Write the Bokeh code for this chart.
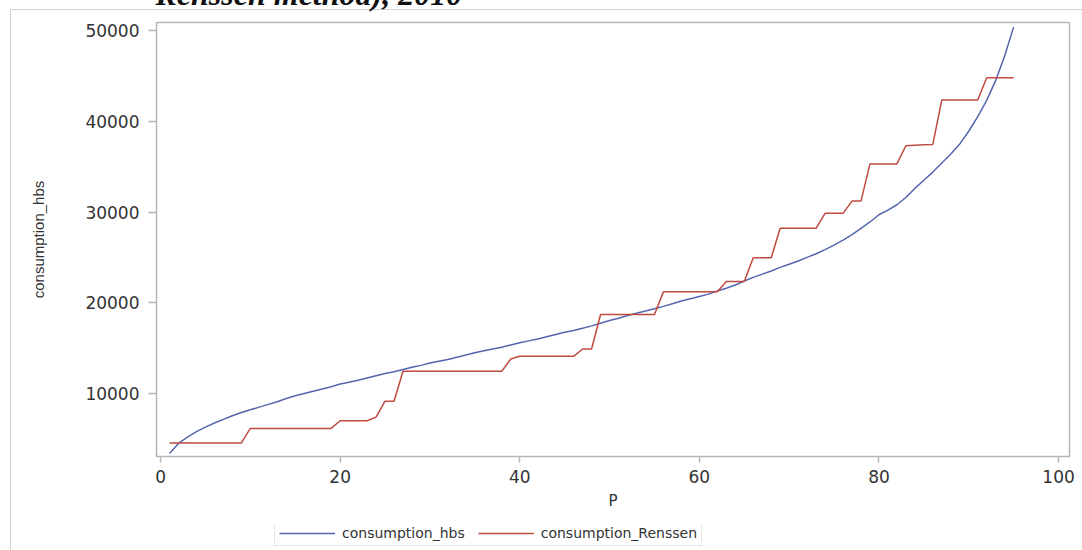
from bokeh.plotting import figure
from bokeh.models import (Range1d, FixedTicker, Legend, LegendItem,
                          ColumnDataSource, NumeralTickFormatter)
from bokeh.embed import file_html
from bokeh.resources import INLINE

# ---------------- data ----------------
percentile = list(range(1, 96))

consumption_hbs = [
    3400, 4500, 5200, 5800, 6300, 6750, 7150, 7550, 7900, 8200,
    8500, 8800, 9100, 9450, 9750, 10000, 10250, 10500, 10750, 11050,
    11250, 11450, 11700, 11950, 12200, 12400, 12650, 12900, 13100, 13350,
    13550, 13750, 14000, 14250, 14500, 14700, 14900, 15100, 15350, 15600,
    15800, 16000, 16250, 16500, 16750, 16950, 17200, 17450, 17750, 18050,
    18300, 18600, 18850, 19100, 19350, 19600, 19900, 20200, 20450, 20700,
    20950, 21300, 21600, 21950, 22400, 22800, 23150, 23500, 23900, 24250,
    24600, 25000, 25400, 25850, 26350, 26900, 27500, 28200, 28900, 29700,
    30200, 30800, 31600, 32600, 33500, 34400, 35400, 36400, 37500, 38900,
    40500, 42300, 44500, 47200, 50400,
]

consumption_renssen = [
    4550, 4550, 4550, 4550, 4550, 4550, 4550, 4550, 4550, 6150,
    6150, 6150, 6150, 6150, 6150, 6150, 6150, 6150, 6150, 7000,
    7000, 7000, 7000, 7400, 9150, 9150, 12450, 12450, 12450, 12450,
    12450, 12450, 12450, 12450, 12450, 12450, 12450, 12450, 13800, 14100,
    14100, 14100, 14100, 14100, 14100, 14100, 14900, 14900, 18700, 18700,
    18700, 18700, 18700, 18700, 18700, 21200, 21200, 21200, 21200, 21200,
    21200, 21200, 22350, 22350, 22350, 24950, 24950, 24950, 28200, 28200,
    28200, 28200, 28200, 29850, 29850, 29850, 31200, 31200, 35300, 35300,
    35300, 35300, 37300, 37350, 37400, 37450, 42350, 42350, 42350, 42350,
    42350, 44800, 44800, 44800, 44800,
]

series_names = ["consumption_hbs", "consumption_Renssen"]
series_colors = ["#5565ae", "#bf4b3f"]
x_ticks = [0, 20, 40, 60, 80, 100]
y_ticks = [10000, 20000, 30000, 40000, 50000]
x_label = "P"
y_label = "consumption_hbs"
title_text = "Renssen method), 2010"

# ---------------- main figure ----------------
src = ColumnDataSource(data=dict(P=percentile, hbs=consumption_hbs, renssen=consumption_renssen))

p = figure(width=1074, height=588, output_backend="svg", toolbar_location=None,
           x_range=Range1d(-0.45, 101.22), y_range=Range1d(3058, 50882),
           min_border_left=148, min_border_right=13, min_border_top=60,
           min_border_bottom=94, margin=(-38, 0, 0, 8),
           styles={"box-shadow": "inset 2px 47px 0 0 #ffffff, inset 3px 48px 0 0 #d4d4d4"})

p.background_fill_color = "white"
p.border_fill_color = None
p.outline_line_color = "#b2b6ba"
p.outline_line_width = 1.5
p.xgrid.grid_line_color = None
p.ygrid.grid_line_color = None

# caption line (only its lower part is visible, as in the source)
p.title.text = title_text
p.title.align = "left"
p.title.offset = -1
p.title.standoff = 21
p.title.text_font = "Liberation Serif"
p.title.text_font_style = "bold italic"
p.title.text_font_size = "32px"
p.title.text_color = "#111111"

tick_gray = "#b2b6ba"
for ax in (p.xaxis, p.yaxis):
    ax.axis_line_color = None
    ax.major_tick_in = 0
    ax.minor_tick_line_color = None
    ax.major_tick_line_color = tick_gray
    ax.major_tick_line_width = 1.5
    ax.major_label_text_font = "DejaVu Sans"
    ax.major_label_text_font_size = "17px"
    ax.major_label_text_color = "#333333"
    ax.axis_label_text_font_style = "normal"
    ax.axis_label_text_color = "#333333"

p.xaxis.ticker = FixedTicker(ticks=x_ticks)
p.yaxis.ticker = FixedTicker(ticks=y_ticks)
p.yaxis.formatter = NumeralTickFormatter(format="0")
p.xaxis.major_tick_out = 6
p.yaxis.major_tick_out = 8
p.xaxis.major_label_standoff = 7
p.yaxis.major_label_standoff = 9

p.xaxis.axis_label = x_label
p.xaxis.axis_label_text_font = "DejaVu Sans"
p.xaxis.axis_label_text_font_size = "15px"
p.xaxis.axis_label_standoff = 6

p.yaxis.axis_label = y_label
p.yaxis.axis_label_text_font = "Liberation Sans"
p.yaxis.axis_label_text_font_size = "15px"
p.yaxis.axis_label_standoff = 35

p.line(x="P", y="hbs", source=src, line_color=series_colors[0], line_width=1.5)
p.line(x="P", y="renssen", source=src, line_color=series_colors[1], line_width=1.5)

# ---------------- legend strip (placed right under the graph) ----------------
lf = figure(width=440, height=22, output_backend="svg", toolbar_location=None,
            x_axis_type=None, y_axis_type=None, title=None, min_border=0,
            x_range=Range1d(0, 1), y_range=Range1d(0, 1),
            margin=(-25, 0, 0, 273))
lf.outline_line_color = None
lf.background_fill_color = None
lf.border_fill_color = None

# same series, out of this strip's view: only their legend swatches show
lr1 = lf.line(x="P", y="hbs", source=src, line_color=series_colors[0], line_width=1.5)
lr2 = lf.line(x="P", y="renssen", source=src, line_color=series_colors[1], line_width=1.5)

legend = Legend(items=[LegendItem(label=series_names[0], renderers=[lr1]),
                       LegendItem(label=series_names[1], renderers=[lr2])],
                orientation="horizontal", location=(1, 1), margin=0,
                padding=4, spacing=13, label_standoff=7,
                glyph_width=56, glyph_height=12, label_height=12,
                label_text_font="DejaVu Sans", label_text_font_size="14px",
                label_text_color="#333333",
                border_line_color="#cfcfcf", border_line_width=1,
                background_fill_color="white", background_fill_alpha=1)
lf.add_layout(legend)

open("out.html", "w").write(file_html([p, lf], INLINE))
